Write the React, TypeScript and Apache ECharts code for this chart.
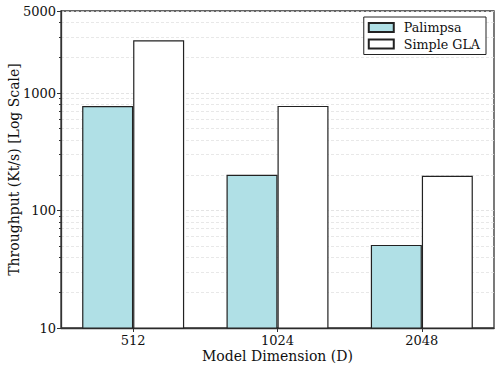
import React, { useEffect, useRef } from "react";
import * as echarts from "echarts";

const categories = ["512", "1024", "2048"];
const palimpsa = [775, 202, 51];
const simpleGla = [2820, 778, 198];
const majorTicks = [10, 100, 1000, 5000];
const minorTicks = [
  20, 30, 40, 50, 60, 70, 80, 90,
  200, 300, 400, 500, 600, 700, 800, 900,
  2000, 3000, 4000,
];

const FONT = "DejaVu Serif";

export default function App() {
  const ref = useRef<HTMLDivElement>(null);
  useEffect(() => {
    if (!ref.current) return;
    const chart = echarts.init(ref.current, null, { renderer: "svg" });
    chart.setOption({
      animation: false,
      backgroundColor: "#ffffff",
      textStyle: { fontFamily: FONT },
      grid: {
        left: 61,
        right: 4,
        top: 11,
        bottom: 43,
        containLabel: false,
        outerBoundsMode: "none",
        show: true,
        borderColor: "#333",
        borderWidth: 1.3,
        backgroundColor: "transparent",
      },
      legend: {
        right: 12,
        top: 17,
        orient: "vertical",
        itemWidth: 25,
        itemHeight: 9,
        itemGap: 3.5,
        padding: [4, 6, 4, 4],
        borderColor: "#222",
        borderWidth: 1,
        borderRadius: 0,
        backgroundColor: "#fff",
        icon: "rect",
        textStyle: { fontFamily: FONT, fontSize: 12.7, color: "#111", padding: [0, 0, 0, 5] },
        data: ["Palimpsa", "Simple GLA"],
      },
      xAxis: {
        type: "category",
        data: categories,
        name: "Model Dimension (D)",
        nameLocation: "middle",
        nameGap: 21,
        nameMoveOverlap: false,
        nameTextStyle: { fontFamily: FONT, fontSize: 14, color: "#111" },
        axisLine: { show: true, lineStyle: { color: "#333", width: 1.3 } },
        axisTick: { show: true, alignWithLabel: true, length: 4, lineStyle: { color: "#333" } },
        axisLabel: { fontFamily: FONT, fontSize: 13, color: "#111", margin: 6 },
        splitLine: { show: false },
      },
      yAxis: [
        {
          type: "log",
          logBase: 10,
          min: 10,
          max: 5000,
          position: "left",
          name: "Throughput (Kt/s) [Log Scale]",
          nameLocation: "middle",
          nameGap: 40,
          nameMoveOverlap: false,
          nameTextStyle: { fontFamily: FONT, fontSize: 14, color: "#111" },
          axisLine: { show: true, lineStyle: { color: "#333", width: 1.3 } },
          axisTick: { show: true, length: 4, customValues: majorTicks, lineStyle: { color: "#333" } },
          axisLabel: {
            fontFamily: FONT,
            fontSize: 13,
            color: "#111",
            margin: 5,
            customValues: majorTicks,
            showMaxLabel: true,
            formatter: (v: number) => String(Math.round(v)),
          },
          splitLine: { show: true, lineStyle: { color: "#ddd", type: [3, 2], width: 0.8 } },
        },
        {
          type: "log",
          logBase: 10,
          min: 10,
          max: 5000,
          position: "left",
          axisLine: { show: false },
          axisTick: { show: true, length: 2, customValues: minorTicks, lineStyle: { color: "#333" } },
          axisLabel: { show: false },
          splitLine: { show: true, lineStyle: { color: "#e2e2e2", type: [3, 2], width: 0.8 } },
        },
      ],
      series: [
        {
          name: "Palimpsa",
          type: "bar",
          yAxisIndex: 0,
          data: palimpsa,
          barWidth: 51,
          barGap: "0%",
          itemStyle: { color: "#b0e0e6", borderColor: "#222", borderWidth: 1.2 },
          z: 3,
        },
        {
          name: "Simple GLA",
          type: "bar",
          yAxisIndex: 0,
          data: simpleGla,
          barWidth: 51,
          barGap: "0%",
          itemStyle: { color: "#ffffff", borderColor: "#222", borderWidth: 1.2 },
          z: 3,
        },
      ],
    });
    return () => chart.dispose();
  }, []);
  return <div ref={ref} style={{ width: 498, height: 371, position: "absolute", left: 0, top: 0 }} />;
}
